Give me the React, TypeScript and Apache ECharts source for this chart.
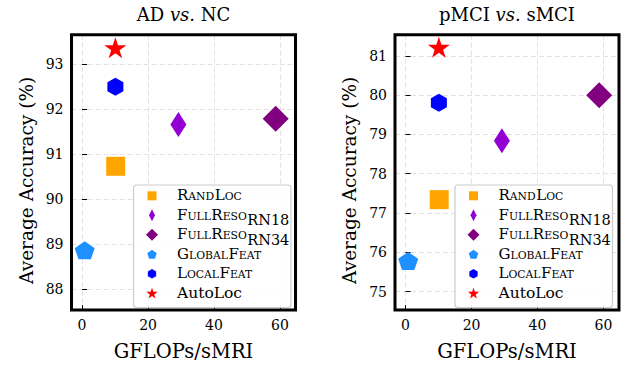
import React, { useEffect, useRef } from 'react';
import * as echarts from 'echarts';

// ---------------- data ----------------
const methods = ['RandLoc', 'FullReso RN18', 'FullReso RN34', 'GlobalFeat', 'LocalFeat', 'AutoLoc'];
const gflops = [10.2, 29.2, 58.7, 0.8, 10.1, 10.1];
const accADvsNC = [90.73, 91.66, 91.79, 88.86, 92.5, 93.37];
const accPMCIvsSMCI = [77.34, 78.84, 80.0, 75.78, 79.81, 81.22];
const colors = ['#FFA500', '#9400D3', '#800080', '#1E90FF', '#0000FF', '#FF0000'];
const panelTitles = [
  ['AD ', 'vs.', ' NC'],
  ['pMCI ', 'vs.', ' sMCI'],
];
const xLabel = 'GFLOPs/sMRI';
const yLabel = 'Average Accuracy (%)';
const xRange = [-3.2, 64.7];
const yRanges = [
  [87.53, 93.66],
  [74.53, 81.54],
];
// legend labels: [text, style] where b = capital, s = small caps, sub = subscript, n = normal
const legendLabels: [string, string][][] = [
  [['R', 'b'], ['AND', 's'], ['L', 'b'], ['OC', 's']],
  [['F', 'b'], ['ULL', 's'], ['R', 'b'], ['ESO', 's'], ['RN18', 'sub']],
  [['F', 'b'], ['ULL', 's'], ['R', 'b'], ['ESO', 's'], ['RN34', 'sub']],
  [['G', 'b'], ['LOBAL', 's'], ['F', 'b'], ['EAT', 's']],
  [['L', 'b'], ['OCAL', 's'], ['F', 'b'], ['EAT', 's']],
  [['AutoLoc', 'n']],
];

const FONT = '"DejaVu Serif", serif';

// ---------------- shapes ----------------
function polyPts(cx: number, cy: number, r: number, n: number): number[][] {
  const pts: number[][] = [];
  for (let i = 0; i < n; i++) {
    const a = (-90 + (i * 360) / n) * (Math.PI / 180);
    pts.push([cx + r * Math.cos(a), cy + r * Math.sin(a)]);
  }
  return pts;
}
function starPts(cx: number, cy: number, r: number): number[][] {
  const pts: number[][] = [];
  for (let i = 0; i < 10; i++) {
    const a = (-90 + i * 36) * (Math.PI / 180);
    const rr = i % 2 === 0 ? r : r * 0.382;
    pts.push([cx + rr * Math.cos(a), cy + rr * Math.sin(a)]);
  }
  return pts;
}
function toPath(pts: number[][]): string {
  return 'path://M' + pts.map((p) => p[0].toFixed(4) + ' ' + p[1].toFixed(4)).join(' L') + ' Z';
}
const pentPath = toPath(polyPts(0, 0, 10, 5));
const hexPath = toPath(polyPts(0, 0, 10, 6));
const starPath = toPath(starPts(0, 0, 10));

const symbols = ['rect', 'diamond', 'diamond', pentPath, hexPath, starPath];
const symbolSizes = [
  [19, 19],
  [16, 25],
  [26, 26],
  [20, 18],
  [16, 18],
  [22, 21],
];

function legendMarkerPts(i: number, cx: number, cy: number): number[][] {
  switch (i) {
    case 0:
      return [
        [cx - 4.5, cy - 4.5],
        [cx + 4.5, cy - 4.5],
        [cx + 4.5, cy + 4.5],
        [cx - 4.5, cy + 4.5],
      ];
    case 1:
      return [
        [cx, cy - 6],
        [cx + 3, cy],
        [cx, cy + 6],
        [cx - 3, cy],
      ];
    case 2:
      return [
        [cx, cy - 6],
        [cx + 6, cy],
        [cx, cy + 6],
        [cx - 6, cy],
      ];
    case 3:
      return polyPts(cx, cy + 0.4, 5, 5);
    case 4:
      return polyPts(cx, cy, 4.8, 6);
    default:
      return starPts(cx, cy + 0.4, 6);
  }
}

const grids = [
  { left: 71.5, top: 34.7, width: 224, height: 275.3 },
  { left: 395, top: 34.7, width: 224, height: 275.3 },
];
const legendBoxes = [
  { x: 133.5, y: 185, w: 157.5, h: 122.5 },
  { x: 455, y: 185, w: 157.5, h: 122.5 },
];

const segSize: Record<string, number> = { b: 15, s: 10.8, sub: 14.5, n: 15.5 };
const segDy: Record<string, number> = { b: 0, s: 0, sub: 5, n: 0 };

let measureCtx: CanvasRenderingContext2D | null = null;
function measure(text: string, size: number): number {
  if (!measureCtx) {
    const c = document.createElement('canvas');
    measureCtx = c.getContext('2d');
  }
  if (!measureCtx) return text.length * size * 0.6;
  measureCtx.font = `${size}px "DejaVu Serif"`;
  return measureCtx.measureText(text).width;
}

function buildGraphics(): any[] {
  const els: any[] = [];
  grids.forEach((g, p) => {
    // frame
    els.push({
      type: 'rect',
      z: 100,
      shape: { x: g.left, y: g.top, width: g.width, height: g.height },
      style: { fill: 'none', stroke: '#000', lineWidth: 3 },
    });
    // title
    const t = panelTitles[p];
    els.push({
      type: 'text',
      z: 100,
      x: g.left + g.width / 2,
      y: 14.5,
      style: {
        text: `{a|${t[0]}}{i|${t[1]}}{a|${t[2]}}`,
        align: 'center',
        verticalAlign: 'middle',
        fill: '#000',
        rich: {
          a: { fontFamily: FONT, fontSize: 18, fill: '#000' },
          i: { fontFamily: FONT, fontSize: 18, fontStyle: 'italic', fill: '#000' },
        },
      },
    });
    // legend
    const b = legendBoxes[p];
    els.push({
      type: 'rect',
      z: 90,
      shape: { x: b.x, y: b.y, width: b.w, height: b.h, r: 3 },
      style: { fill: 'rgba(255,255,255,0.9)', stroke: '#cccccc', lineWidth: 1.2 },
    });
    methods.forEach((m, i) => {
      const cy = b.y + 10.8 + i * 19.5;
      const cx = b.x + 18.5;
      els.push({
        type: 'polygon',
        z: 95,
        shape: { points: legendMarkerPts(i, cx, cy) },
        style: { fill: colors[i] },
      });
      let x = b.x + 43.5;
      const baseline = cy + 4.5;
      legendLabels[i].forEach(([txt, st]) => {
        const size = segSize[st];
        els.push({
          type: 'text',
          z: 95,
          x,
          y: baseline + segDy[st] - 0.33 * size,
          style: {
            text: txt,
            fontFamily: FONT,
            fontSize: size,
            fill: '#000',
            align: 'left',
            verticalAlign: 'middle',
          },
        });
        x += measure(txt, size) + (st === 's' ? 0.5 : 0);
      });
    });
  });
  return els;
}

const App: React.FC = () => {
  const ref = useRef<HTMLDivElement>(null);
  useEffect(() => {
    if (!ref.current) return;
    const chart = echarts.init(ref.current, null, { renderer: 'svg' });
    const tickFmt = (v: number) => (Math.abs(v - Math.round(v)) < 1e-6 ? String(Math.round(v)) : '');
    const axisCommon = {
      type: 'value',
      axisLine: { show: false },
      axisTick: { show: true, inside: true, length: 5, lineStyle: { color: '#000', width: 1 } },
      axisLabel: { show: true, margin: 8, color: '#000', fontFamily: FONT, fontSize: 14, formatter: tickFmt },
      splitLine: { show: true, lineStyle: { color: '#e2e2e2', type: [5, 3], width: 1 } },
      nameLocation: 'middle',
    };
    const series: any[] = [];
    [accADvsNC, accPMCIvsSMCI].forEach((acc, p) => {
      methods.forEach((m, i) => {
        series.push({
          type: 'scatter',
          name: m,
          xAxisIndex: p,
          yAxisIndex: p,
          data: [[gflops[i], acc[i]]],
          symbol: symbols[i],
          symbolSize: symbolSizes[i],
          itemStyle: { color: colors[i], opacity: 1 },
          z: 5,
          silent: true,
        });
      });
    });
    chart.setOption({
      animation: false,
      backgroundColor: '#fff',
      grid: grids.map((g) => ({ ...g, containLabel: false })),
      xAxis: grids.map((g, p) => ({
        ...axisCommon,
        gridIndex: p,
        min: xRange[0],
        max: xRange[1],
        splitNumber: 3,
        name: xLabel,
        nameGap: 31,
        nameTextStyle: { fontFamily: FONT, fontSize: 19.5, color: '#000' },
      })),
      yAxis: grids.map((g, p) => ({
        ...axisCommon,
        gridIndex: p,
        min: yRanges[p][0],
        max: yRanges[p][1],
        splitNumber: 6,
        name: yLabel,
        nameGap: 36,
        nameTextStyle: { fontFamily: FONT, fontSize: 18.5, color: '#000', padding: [0, 16, 0, 0] },
      })),
      series,
      graphic: buildGraphics(),
    });
    return () => chart.dispose();
  }, []);
  return (
    <div
      ref={ref}
      style={{ position: 'fixed', left: 0, top: 0, width: 628, height: 369, background: '#fff' }}
    />
  );
};

export default App;
